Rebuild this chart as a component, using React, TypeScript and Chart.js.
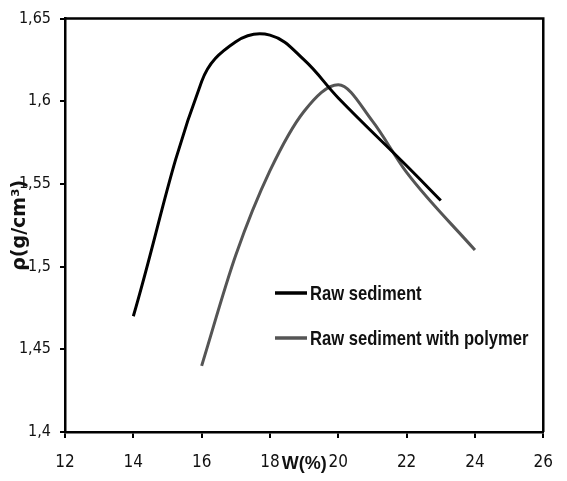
import React, { useEffect, useRef } from "react";
import { Chart, registerables } from "chart.js";

Chart.register(...registerables);

// ---- data ----
const rawW = [14, 16, 17, 18, 19, 20, 22, 23];
const rawRho = [1.47, 1.612, 1.636, 1.64, 1.625, 1.602, 1.561, 1.54];
const polyW = [16, 17, 18, 19, 20, 21, 22, 24];
const polyRho = [1.44, 1.507, 1.558, 1.594, 1.61, 1.588, 1.557, 1.51];
const seriesLabels = ["Raw sediment", "Raw sediment with polymer"];
const seriesColors = ["#000000", "#555555"];
const xTickValues = [12, 14, 16, 18, 20, 22, 24, 26];
const xTickLabels = ["12", "14", "16", "18", "20", "22", "24", "26"];
const yTickValues = [1.4, 1.45, 1.5, 1.55, 1.6, 1.65];
const yTickLabels = ["1,4", "1,45", "1,5", "1,55", "1,6", "1,65"];
const xTitle = "W(%)";
const yTitle = "ρ(g/cm³)";

const COND = "'DejaVu Sans Condensed', 'DejaVu Sans', sans-serif";

const framePlugin = {
  id: "frame",
  afterDatasetsDraw(chart: any) {
    const { ctx, chartArea } = chart;
    ctx.save();
    ctx.strokeStyle = "#000";
    ctx.lineWidth = 2.5;
    ctx.beginPath();
    ctx.moveTo(chartArea.left, chartArea.top);
    ctx.lineTo(chartArea.right, chartArea.top);
    ctx.lineTo(chartArea.right, chartArea.bottom);
    ctx.stroke();
    ctx.restore();
  },
};

const legendPlugin = {
  id: "insideLegend",
  afterDraw(chart: any) {
    const { ctx } = chart;
    const x0 = 275;
    const lineLen = 32;
    const ys = [293, 338];
    ctx.save();
    ctx.textBaseline = "middle";
    ctx.textAlign = "left";
    chart.data.datasets.forEach((ds: any, i: number) => {
      const y = ys[i];
      ctx.strokeStyle = ds.borderColor;
      ctx.lineWidth = 3.5;
      ctx.beginPath();
      ctx.moveTo(x0, y);
      ctx.lineTo(x0 + lineLen, y);
      ctx.stroke();
      ctx.save();
      ctx.translate(x0 + lineLen + 3, y);
      ctx.scale(0.79, 1);
      ctx.font = "bold 21px 'Liberation Sans', Arial, sans-serif";
      ctx.fillStyle = "#111";
      ctx.fillText(ds.label, 0, 1);
      ctx.restore();
    });
    ctx.restore();
  },
};

export default function App() {
  const ref = useRef<HTMLCanvasElement | null>(null);

  useEffect(() => {
    document.body.style.margin = "0";
    if (!ref.current) return;
    const chart = new Chart(ref.current, {
      type: "line",
      data: {
        datasets: [
          {
            label: seriesLabels[0],
            data: rawW.map((w, i) => ({ x: w, y: rawRho[i] })),
            borderColor: seriesColors[0],
            backgroundColor: seriesColors[0],
            borderWidth: 3,
            pointRadius: 0,
            tension: 0.4,
            fill: false,
          },
          {
            label: seriesLabels[1],
            data: polyW.map((w, i) => ({ x: w, y: polyRho[i] })),
            borderColor: seriesColors[1],
            backgroundColor: seriesColors[1],
            borderWidth: 3,
            pointRadius: 0,
            cubicInterpolationMode: "monotone",
            fill: false,
          },
        ],
      },
      options: {
        responsive: false,
        animation: false,
        devicePixelRatio: 1,
        layout: { padding: { top: 17, right: 10, left: 0, bottom: 0 } },
        plugins: {
          legend: { display: false },
          tooltip: { enabled: false },
        },
        scales: {
          x: {
            type: "linear",
            min: 12,
            max: 26,
            afterFit: (s: any) => {
              s.height = 49;
            },
            afterBuildTicks: (s: any) => {
              s.ticks = xTickValues.map((v) => ({ value: v }));
            },
            ticks: {
              autoSkip: false,
              maxRotation: 0,
              padding: 14,
              color: "#111",
              font: { family: COND, size: 17 },
              callback: (v: any) => {
                const i = xTickValues.indexOf(Number(v));
                return i >= 0 ? xTickLabels[i] : "";
              },
            },
            grid: {
              drawOnChartArea: false,
              drawTicks: true,
              tickLength: 6,
              color: "#000",
              lineWidth: 2,
            },
            border: { display: true, color: "#000", width: 2.5 },
            title: {
              display: true,
              text: xTitle,
              color: "#111",
              font: { family: "'Liberation Sans', Arial, sans-serif", size: 18, weight: "bold" },
              padding: { top: 0, bottom: 6 },
            },
          },
          y: {
            type: "linear",
            min: 1.4,
            max: 1.65,
            afterFit: (s: any) => {
              s.width = 65;
            },
            afterBuildTicks: (s: any) => {
              s.ticks = yTickValues.map((v) => ({ value: v }));
            },
            ticks: {
              autoSkip: false,
              padding: 9,
              color: "#111",
              font: { family: COND, size: 16 },
              callback: (v: any) => {
                const i = yTickValues.findIndex((t) => Math.abs(t - Number(v)) < 1e-6);
                return i >= 0 ? yTickLabels[i] : "";
              },
            },
            grid: {
              drawOnChartArea: false,
              drawTicks: true,
              tickLength: 5,
              color: "#000",
              lineWidth: 2,
            },
            border: { display: true, color: "#000", width: 2.5 },
            title: {
              display: true,
              text: yTitle,
              color: "#111",
              font: { family: "'DejaVu Sans', sans-serif", size: 19, weight: "bold" },
              padding: { top: 9, bottom: 0 },
            },
          },
        },
      },
      plugins: [framePlugin, legendPlugin],
    } as any);
    return () => chart.destroy();
  }, []);

  return (
    <div style={{ width: 567, height: 481, background: "#fff" }}>
      <canvas ref={ref} width={567} height={481} />
    </div>
  );
}
